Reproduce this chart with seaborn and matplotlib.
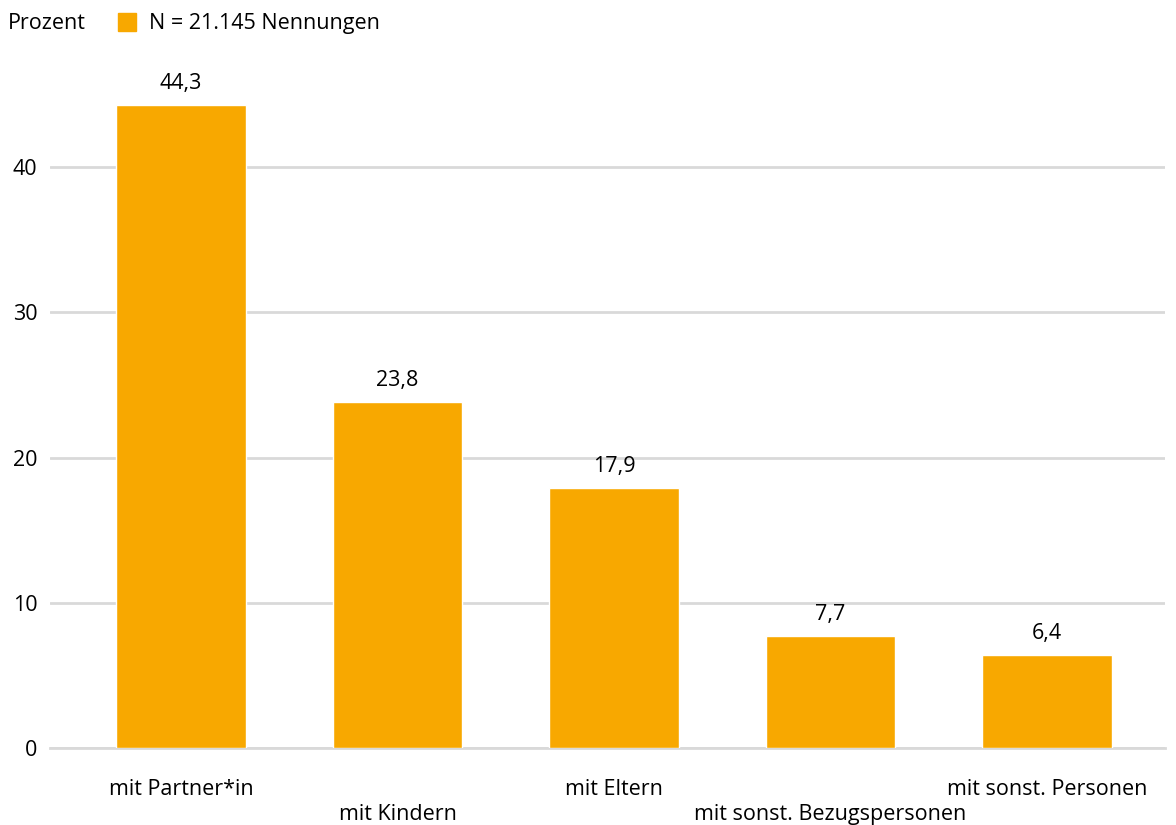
import matplotlib
matplotlib.use("Agg")
import matplotlib.pyplot as plt
import seaborn as sns
import pandas as pd
from matplotlib.patches import Patch

categories = ["mit Partner*in", "mit Kindern", "mit Eltern",
              "mit sonst. Bezugspersonen", "mit sonst. Personen"]
values = [44.3, 23.8, 17.9, 7.7, 6.4]
y_ticks = [0, 10, 20, 30, 40]
legend_label = "N = 21.145 Nennungen"
unit_label = "Prozent"

bar_color = "#F8A800"
grid_color = "#D9D9D9"

sns.set_theme(style="white")
plt.rcParams["font.family"] = ["Open Sans", "DejaVu Sans"]
plt.rcParams["text.color"] = "black"

df = pd.DataFrame({"cat": categories, "val": values})

fig = plt.figure(figsize=(11.76, 8.25), dpi=100)
ax = fig.add_axes([0.0425, 0.0933, 0.9481, 0.845])

sns.barplot(data=df, x="cat", y="val", color=bar_color, width=0.6,
            saturation=1, ax=ax, zorder=3)

ax.set_xlim(-0.605, 4.545)
ax.set_ylim(0, 48)
ax.set_yticks(y_ticks)
ax.set_yticklabels([str(t) for t in y_ticks])
ax.yaxis.grid(True, color=grid_color, linewidth=2, zorder=0)
ax.set_axisbelow(True)
for s in ["top", "right", "left"]:
    ax.spines[s].set_visible(False)
ax.spines["bottom"].set_color(grid_color)
ax.spines["bottom"].set_linewidth(2)
ax.set_xlabel("")
ax.set_ylabel("")

ax.tick_params(axis="y", length=0, labelsize=15.5, pad=9, labelcolor="black")
ax.tick_params(axis="x", length=12, width=2, color=grid_color,
               labelsize=15.5, labelcolor="black")
ax.set_xticks(range(len(categories)))
ax.set_xticklabels(categories)
# staggered category labels, as in the original
for i, tick in enumerate(ax.xaxis.get_major_ticks()):
    tick.set_pad(10 if i % 2 == 0 else 28)

labels = [f"{v:.1f}".replace(".", ",") for v in values]
ax.bar_label(ax.containers[0], labels=labels, padding=8, fontsize=15.5,
             color="black")

fig.text(0.007, 0.971, unit_label, fontsize=15.5, va="center", ha="left")
fig.legend(handles=[Patch(color=bar_color)], labels=[legend_label],
           loc="center left", bbox_to_anchor=(0.1, 0.971), frameon=False,
           fontsize=15.5, handlelength=0.85, handleheight=0.85,
           handletextpad=0.6, borderaxespad=0, borderpad=0)

fig.savefig("out.png", dpi=100)
